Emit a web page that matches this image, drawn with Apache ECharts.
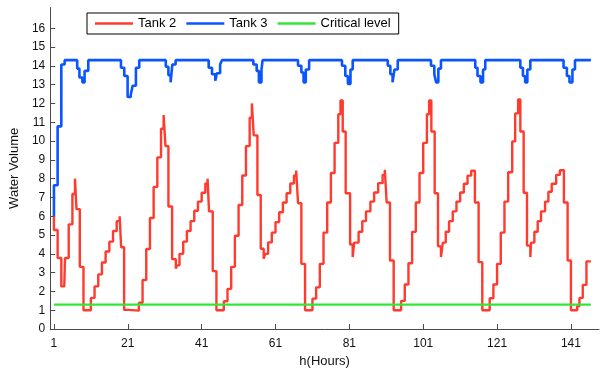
<!DOCTYPE html>
<html>
<head>
<meta charset="utf-8">
<script src="https://cdn.jsdelivr.net/npm/echarts@6/dist/echarts.min.js"></script>
<style>
  html, body { margin: 0; padding: 0; background: #fff; }
  #chart { width: 600px; height: 373px; }
</style>
</head>
<body>
<div id="chart"></div>
<script>
// tick positions on the axes
const xTicks = [1, 21, 41, 61, 81, 101, 121, 141];
const yTicks = [0, 1, 2, 3, 4, 5, 6, 7, 8, 9, 10, 11, 12, 13, 14, 15, 16];

// [hour, volume] - each value holds until the next hour in the list (stairs)
const tank2 = [
  [1, 6.0], [1, 5.27], [2, 3.78], [3, 2.27], [3.8, 2.18], [4, 3.78], [5, 5.57], [6, 7.18],
  [6.7, 8.0], [7.1, 6.38], [8, 3.31], [9, 1.0], [11, 1.66], [12, 2.27], [13, 2.91], [14, 3.54],
  [15, 4.13], [16, 4.65], [17, 5.22], [18, 5.74], [18.8, 6.0], [19.2, 4.35], [20, 1.02], [21.2, 0.98],
  [24, 1.4], [25, 2.61], [26, 4.26], [27, 5.91], [28, 7.56], [29, 9.13], [30, 10.65], [30.7, 11.38],
  [31.2, 9.73], [32, 6.52], [33, 3.72], [34, 3.22], [34.3, 3.39], [35, 4.0], [36, 4.65], [37, 5.22],
  [38, 5.74], [39, 6.29], [40, 6.78], [41, 7.25], [42, 7.74], [42.6, 8.0], [43, 6.26], [44, 3.08],
  [45, 1.0], [47, 1.48], [48, 2.14], [49, 3.31], [50, 4.96], [51, 6.6], [52, 8.17], [53, 9.73],
  [54, 11.24], [54.6, 12.0], [55.1, 10.3], [56.1, 7.13], [57, 4.27], [57.8, 3.74], [58.2, 4.0], [59, 4.61],
  [60, 5.13], [61, 5.69], [62, 6.21], [63, 6.73], [64, 7.22], [65, 7.74], [66, 8.17], [66.6, 8.43],
  [67.1, 6.69], [68, 3.47], [69, 1.0], [71, 1.62], [72, 2.22], [73, 3.47], [74, 5.13], [75, 6.73],
  [76, 8.3], [77, 9.9], [78, 11.42], [78.6, 12.16], [79.2, 10.51], [80, 7.22], [81.2, 4.5], [81.9, 3.83],
  [82.3, 4.6], [83.5, 5.18], [84.5, 5.74], [85.5, 6.26], [86.7, 6.78], [87.7, 7.26], [88.8, 7.76], [90, 8.2],
  [90.6, 8.47], [91.1, 6.73], [92, 3.65], [93, 1.0], [95, 1.5], [96, 2.37], [97, 3.5], [98, 5.17],
  [99, 6.73], [100, 8.3], [101, 9.9], [102, 11.42], [102.6, 12.16], [103.2, 10.51], [104.1, 7.22], [105, 4.4],
  [105.8, 3.83], [106.3, 4.6], [107.1, 5.18], [108, 5.74], [109, 6.26], [110, 6.78], [111, 7.26], [112, 7.73],
  [113, 8.16], [114, 8.42], [115, 6.73], [116, 3.56], [117, 1.0], [119, 1.64], [120, 2.37], [121, 3.47],
  [122, 5.13], [123, 6.78], [124, 8.34], [125.1, 9.98], [125.9, 11.47], [126.7, 12.21], [127.3, 10.51], [128.2, 7.25],
  [129.1, 4.44], [130, 3.83], [130.2, 4.6], [131.1, 5.18], [132, 5.74], [132.9, 6.26], [134, 6.78], [134.9, 7.3],
  [135.8, 7.73], [137, 8.2], [138, 8.45], [139.1, 6.73], [140.1, 3.65], [141, 1.0], [142.7, 1.22], [143.3, 1.66],
  [144.2, 2.35], [145.2, 3.6], [146.4, 3.6]
];

const tank3 = [
  [1, 6.0], [1, 7.65], [2, 10.78], [3, 14.07], [3.9, 14.3],
  [7.3, 13.85], [7.9, 13.38], [8.7, 13.12], [9.3, 13.73], [10.3, 14.3],
  [19.15, 13.9], [20.05, 13.46], [20.95, 12.34], [21.8, 12.46], [22.3, 12.94], [23.2, 13.9], [24.1, 14.3],
  [31.3, 13.95], [32, 13.5], [32.6, 13.12], [33.06, 14.07], [33.95, 14.3],
  [42.9, 13.9], [43.8, 13.55], [44.7, 13.2], [45.1, 13.6], [46, 14.07], [46.5, 14.3],
  [55, 14.07], [55.9, 13.73], [56.5, 13.12], [57.2, 13.8], [57.5, 14.3],
  [67.1, 14.0], [68, 13.64], [68.6, 13.12], [69.2, 13.8], [70.1, 14.3],
  [79, 14.0], [79.9, 13.46], [80.6, 13.03], [81.3, 13.8], [81.9, 14.3],
  [91.4, 14.0], [92.1, 13.55], [92.7, 13.12], [93.2, 13.8], [94.1, 14.3],
  [103.1, 14.0], [104, 13.55], [104.5, 13.12], [105.1, 13.85], [105.8, 14.3],
  [115.1, 13.9], [115.7, 13.46], [116.5, 13.12], [117.2, 13.8], [117.8, 14.3],
  [127.3, 13.9], [128, 13.46], [128.6, 13.12], [129.2, 13.8], [130, 14.3],
  [139, 13.9], [139.9, 13.46], [140.6, 13.12], [141.4, 13.8], [142.1, 14.3], [146.4, 14.3]
];

const criticalLevel = [[1, 1.3], [146.4, 1.3]];

const font = "'Liberation Sans', Arial, Helvetica, sans-serif";
const chart = echarts.init(document.getElementById('chart'), null, { renderer: 'canvas' });

const axisCommon = {
  axisLine: { show: true, lineStyle: { color: '#4a4a4a', width: 1 } },
  axisTick: { show: true, inside: true, length: 5, lineStyle: { color: '#4a4a4a' } },
  splitLine: { show: false },
  nameTextStyle: { color: '#111', fontSize: 13, fontFamily: font }
};

chart.setOption({
  animation: false,
  backgroundColor: '#fff',
  grid: { left: 47, right: 1, top: 7.5, bottom: 37.5, containLabel: false },
  legend: {
    left: 87, top: 13,
    orient: 'horizontal',
    icon: 'rect',
    padding: [4, 8, 4, 8],
    itemWidth: 38, itemHeight: 2.5, itemGap: 10,
    borderColor: '#000', borderWidth: 1, backgroundColor: '#fff',
    textStyle: { color: '#000', fontSize: 13, fontFamily: font },
    data: ['Tank 2', 'Tank 3', 'Critical level']
  },
  xAxis: Object.assign({}, axisCommon, {
    type: 'value', min: 0, max: 148.6,
    name: 'h(Hours)', nameLocation: 'middle', nameGap: 22,
    axisTick: Object.assign({}, axisCommon.axisTick, { customValues: xTicks }),
    axisLabel: { customValues: xTicks, color: '#111', fontSize: 12, fontFamily: font, margin: 9 }
  }),
  yAxis: Object.assign({}, axisCommon, {
    type: 'value', min: 0, max: 17.1,
    name: 'Water Volume', nameLocation: 'middle', nameGap: 26, nameRotate: 90,
    axisTick: Object.assign({}, axisCommon.axisTick, { customValues: yTicks }),
    axisLabel: { customValues: yTicks, color: '#111', fontSize: 12, fontFamily: font, margin: 5 }
  }),
  series: [
    {
      name: 'Tank 2', type: 'line', step: 'end', data: tank2, symbol: 'none',
      lineStyle: { color: '#ff3b2e', width: 2.4 }, itemStyle: { color: '#ff3b2e' }
    },
    {
      name: 'Tank 3', type: 'line', step: 'end', data: tank3, symbol: 'none',
      lineStyle: { color: '#0a55ff', width: 2.6 }, itemStyle: { color: '#0a55ff' }
    },
    {
      name: 'Critical level', type: 'line', data: criticalLevel, symbol: 'none',
      lineStyle: { color: '#33e633', width: 2.4 }, itemStyle: { color: '#33e633' }
    }
  ]
});
</script>
</body>
</html>
